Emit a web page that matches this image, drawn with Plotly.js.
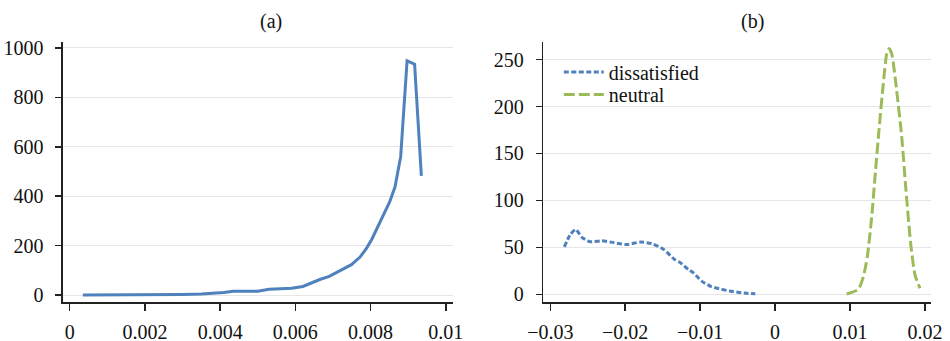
<!DOCTYPE html>
<html>
<head>
<meta charset="utf-8">
<script src="https://cdn.plot.ly/plotly-3.0.1.min.js"></script>
<style>
  html, body { margin: 0; padding: 0; background: #fff; }
  #chart { width: 950px; height: 341px; }
</style>
</head>
<body>
<div id="chart"></div>
<script>
// Panel (a): single density curve
const aX = [0.00035, 0.0008, 0.0012, 0.0016, 0.0020, 0.0025, 0.0030, 0.0035, 0.0038, 0.0041,
            0.00435, 0.0047, 0.0050, 0.0053, 0.0056, 0.0059, 0.0062, 0.0064, 0.00665, 0.0069,
            0.00718, 0.00749, 0.00772, 0.00789, 0.00803, 0.0082, 0.00838, 0.00851, 0.00865, 0.00873,
            0.0088, 0.00897, 0.00917, 0.00935];
const aY = [0, 0, -1, 0, 0, 1, 2, 4, 6, 10,
            15, 15, 16, 24, 27, 28, 35, 48, 63, 76,
            97, 123, 154, 189, 225, 279, 331, 378, 438, 506,
            560, 948, 934, 482];

// Panel (b): dissatisfied vs. neutral
const dissX = [-0.02813, -0.02737, -0.02661, -0.02581, -0.0247, -0.02314, -0.0215, -0.0198, -0.018, -0.01647,
               -0.0149, -0.0134, -0.0127, -0.0116, -0.01092, -0.0098, -0.00846, -0.0072, -0.0061, -0.0048, -0.0037, -0.00264];
const dissY = [50.6, 63, 69, 61, 56, 57, 55, 53, 55.6, 54,
               48, 37, 34, 26.6, 23, 14, 8, 5.5, 3.5, 2, 1, 0.5];
const neutX = [0.00955, 0.0111, 0.01177, 0.0123, 0.01289, 0.01333, 0.01386, 0.01444, 0.01489, 0.0152,
               0.01556, 0.01622, 0.01689, 0.01746, 0.01809, 0.01867, 0.01933];
const neutY = [0.3, 5.3, 18.7, 40, 82.6, 125, 175, 224.5, 256, 261.7,
               256, 217, 168, 111, 54, 20.5, 6.4];

const leftTicks = [0, 0.002, 0.004, 0.006, 0.008, 0.01];
const rightTicks = [-0.03, -0.02, -0.01, 0, 0.01, 0.02];

const blue = '#4f81bd';
const green = '#9bbb59';
const serif = '"Liberation Serif", "Times New Roman", serif';
const ink = '#111';

const traces = [
  { x: aX, y: aY, xaxis: 'x', yaxis: 'y', mode: 'lines', showlegend: false,
    line: { color: blue, width: 3 } },
  { x: dissX, y: dissY, xaxis: 'x2', yaxis: 'y2', mode: 'lines', name: 'dissatisfied',
    legend: 'legend',
    line: { color: blue, width: 3, dash: '5px,2.5px', shape: 'spline', smoothing: 0.6 } },
  { x: neutX, y: neutY, xaxis: 'x2', yaxis: 'y2', mode: 'lines', name: 'neutral',
    legend: 'legend2',
    line: { color: green, width: 3, dash: '11px,4px', shape: 'spline', smoothing: 0.6 } }
];

const axisCommon = {
  showline: true, linecolor: '#222', linewidth: 1.5,
  ticks: 'outside', tickcolor: '#222', tickwidth: 1.5,
  zeroline: false, tickfont: { family: serif, size: 20, color: ink }
};

const legendCommon = {
  xanchor: 'left', yanchor: 'top', bgcolor: 'rgba(0,0,0,0)', itemwidth: 40,
  font: { family: serif, size: 20, color: ink }
};

const layout = {
  width: 950, height: 341,
  margin: { l: 0, r: 0, t: 42, b: 39 },
  paper_bgcolor: '#fff', plot_bgcolor: '#fff',
  font: { family: serif, size: 20, color: ink },
  xaxis: Object.assign({}, axisCommon, {
    domain: [0.0663, 0.4768], range: [-0.000178, 0.01019],
    tickvals: leftTicks, ticklen: 7, ticklabelstandoff: 4, showgrid: false, anchor: 'y'
  }),
  yaxis: Object.assign({}, axisCommon, {
    domain: [0, 1], range: [-28, 1024], dtick: 200, tick0: 0, ticklen: 6, ticklabelstandoff: 8,
    showgrid: true, gridcolor: '#e6e6e6', gridwidth: 1, anchor: 'x'
  }),
  xaxis2: Object.assign({}, axisCommon, {
    domain: [0.5719, 0.98], range: [-0.03093, 0.0208],
    tickvals: rightTicks, ticklen: 7, ticklabelstandoff: 4, showgrid: false, anchor: 'y2'
  }),
  yaxis2: Object.assign({}, axisCommon, {
    domain: [0, 1], range: [-8.2, 268.7], dtick: 50, tick0: 0, ticklen: 6, ticklabelstandoff: 8,
    showgrid: true, gridcolor: '#e6e6e6', gridwidth: 1, anchor: 'x2'
  }),
  showlegend: true,
  legend: Object.assign({}, legendCommon, { x: 0.5882, y: 0.96 }),
  legend2: Object.assign({}, legendCommon, { x: 0.5882, y: 0.873 }),
  annotations: [
    { text: '(a)', xref: 'paper', yref: 'paper', x: 271 / 950, y: 1, yshift: 21,
      showarrow: false, xanchor: 'center', yanchor: 'middle',
      font: { family: serif, size: 20, color: ink } },
    { text: '(b)', xref: 'paper', yref: 'paper', x: 752 / 950, y: 1, yshift: 21,
      showarrow: false, xanchor: 'center', yanchor: 'middle',
      font: { family: serif, size: 20, color: ink } }
  ]
};

Plotly.newPlot('chart', traces, layout, { staticPlot: true, displayModeBar: false });
</script>
</body>
</html>
